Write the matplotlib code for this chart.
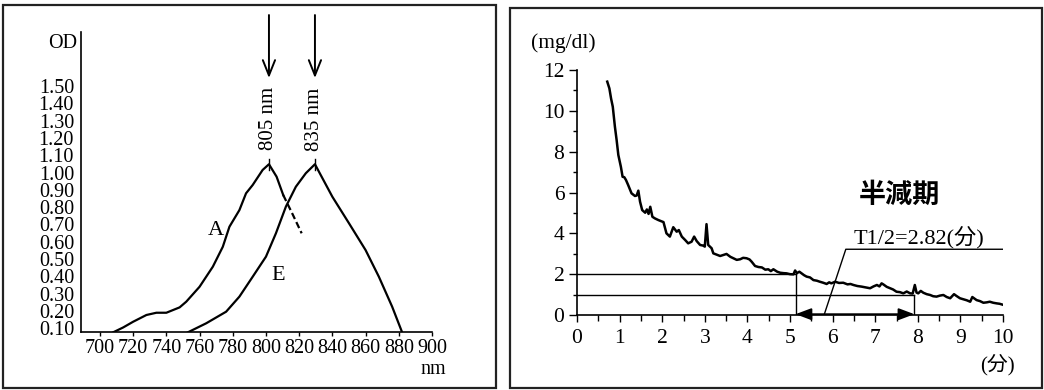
import numpy as np
import matplotlib
matplotlib.use("Agg")
import matplotlib.pyplot as plt
from matplotlib.patches import Rectangle

plt.rcParams['font.family'] = ['Liberation Serif', 'Noto Sans CJK JP']

# left panel: absorption spectra (nm, OD)
a_nm = [708, 714, 720, 728, 734, 740, 748, 752, 760, 768, 774, 778, 784, 788, 792, 798, 801.8, 806.4, 810.4]
a_od = [0.077, 0.105, 0.138, 0.177, 0.19, 0.19, 0.221, 0.254, 0.34, 0.456, 0.571, 0.687, 0.783, 0.88, 0.928, 1.015, 1.048, 0.976, 0.87]
a_dash_nm = [810.4, 816, 821.5]
a_dash_od = [0.87, 0.76, 0.649]
e_nm = [753, 764, 776, 784, 792, 800, 806, 812, 818, 824, 829.5, 840, 850, 860, 868, 876, 882]
e_od = [0.077, 0.129, 0.196, 0.283, 0.398, 0.514, 0.649, 0.803, 0.918, 0.996, 1.048, 0.86, 0.707, 0.552, 0.398, 0.225, 0.077]
peaks = [801.8, 829.5]
peak_labels = ["805 nm", "835 nm"]
nm_ticks = list(range(700, 901, 20))
od_ticks = [round(0.1 * i, 2) for i in range(1, 16)]

# right panel: concentration decay (min, mg/dl)
t = [0.71, 0.76, 0.80, 0.84, 0.89, 0.93, 0.97, 1.03, 1.07, 1.11, 1.15, 1.20, 1.28, 1.36, 1.40, 1.44,
     1.48, 1.53, 1.60, 1.64, 1.68, 1.72, 1.77, 1.83, 1.91, 1.97, 2.03, 2.10, 2.18, 2.26, 2.34, 2.39,
     2.46, 2.54, 2.61, 2.69, 2.75, 2.81, 2.89, 2.96, 3.00, 3.04, 3.08, 3.12, 3.16, 3.20, 3.36, 3.45,
     3.51, 3.60, 3.67, 3.75, 3.83, 3.90, 3.98, 4.05, 4.10, 4.18, 4.26, 4.34, 4.42, 4.49, 4.55, 4.61,
     4.70, 4.77, 4.85, 4.92, 5.00, 5.08, 5.12, 5.16, 5.22, 5.27, 5.33, 5.39, 5.47, 5.55, 5.63, 5.70,
     5.78, 5.86, 5.92, 5.97, 6.06, 6.15, 6.25, 6.35, 6.42, 6.49, 6.58, 6.68, 6.78, 6.88, 6.96, 7.04,
     7.10, 7.15, 7.19, 7.27, 7.35, 7.42, 7.50, 7.58, 7.66, 7.74, 7.82, 7.88, 7.93, 7.97, 8.01, 8.07,
     8.13, 8.21, 8.29, 8.36, 8.44, 8.52, 8.60, 8.68, 8.76, 8.85, 8.91, 8.99, 9.07, 9.15, 9.23, 9.28,
     9.38, 9.46, 9.54, 9.62, 9.69, 9.77, 9.85, 9.92, 10.0]
conc = [11.43, 11.1, 10.6, 10.2, 9.22, 8.57, 7.84, 7.26, 6.77, 6.75, 6.61, 6.37, 5.96, 5.83, 5.85, 6.09,
        5.55, 5.14, 5.01, 5.17, 4.95, 5.30, 4.81, 4.73, 4.65, 4.60, 4.55, 4.0, 3.84, 4.30, 4.08, 4.16,
        3.84, 3.67, 3.51, 3.59, 3.84, 3.62, 3.43, 3.40, 3.35, 4.45, 3.43, 3.35, 3.27, 3.02, 2.89, 2.95,
        2.99, 2.85, 2.78, 2.70, 2.73, 2.80, 2.78, 2.72, 2.61, 2.40, 2.35, 2.33, 2.22, 2.24, 2.15, 2.24,
        2.12, 2.07, 2.05, 2.04, 2.00, 1.99, 2.18, 2.05, 2.12, 2.04, 1.95, 1.88, 1.84, 1.71, 1.68, 1.63,
        1.58, 1.52, 1.60, 1.55, 1.63, 1.57, 1.58, 1.50, 1.52, 1.47, 1.42, 1.39, 1.35, 1.31, 1.40, 1.47,
        1.40, 1.55, 1.50, 1.38, 1.31, 1.25, 1.14, 1.12, 1.06, 1.15, 1.06, 1.05, 1.47, 1.10, 1.06, 1.18,
        1.09, 1.02, 0.98, 0.92, 0.90, 0.95, 0.98, 0.88, 0.82, 1.02, 0.93, 0.82, 0.77, 0.72, 0.65, 0.88,
        0.73, 0.68, 0.60, 0.62, 0.65, 0.60, 0.57, 0.55, 0.50]
c_start, c_half = 2.0, 1.0
t_start, t_half = 5.13, 7.92
leader_x = [5.80, 6.31, 10.0]
leader_y = [0.0, 3.22, 3.22]

W, H = 1044, 390
fig = plt.figure(figsize=(W / 100, H / 100), dpi=100)

def fx(px):
    return px / W

def fy(py):
    return 1 - py / H

# panel frames
fig.patches.append(Rectangle((fx(3), fy(388)), fx(493), (388 - 5) / H, transform=fig.transFigure,
                             fill=False, lw=1.6, ec='#222222'))
fig.patches.append(Rectangle((fx(510), fy(388)), fx(532), (388 - 8) / H, transform=fig.transFigure,
                             fill=False, lw=1.6, ec='#222222'))

# ---- left panel
ax1 = fig.add_axes([fx(81), fy(332.3), fx(351), 300.3 / H])
ax1.plot(a_nm, a_od, color='black', lw=1.6)
ax1.plot(a_dash_nm, a_dash_od, color='black', lw=1.6, linestyle=(0, (3, 1.5)))
ax1.plot(e_nm, e_od, color='black', lw=1.6)
for p, lab in zip(peaks, peak_labels):
    ax1.plot([p, p], [1.015, 1.08], color='black', lw=1.0)
    ax1.text(p, 1.31, lab, rotation=90, ha='center', va='center', fontsize=15)
    ax1.annotate('', xy=(p, 1.546), xytext=(p, 1.91), annotation_clip=False,
                 arrowprops=dict(arrowstyle='->,head_length=0.55,head_width=0.22', lw=1.4,
                                 color='black', mutation_scale=20, shrinkA=0, shrinkB=0))
ax1.text(770, 0.668, 'A', ha='center', va='center', fontsize=16)
ax1.text(807.4, 0.408, 'E', ha='center', va='center', fontsize=16)
ax1.set_xlim(688.6, 900)
ax1.set_ylim(0.077, 1.812)
ax1.set_xticks(nm_ticks)
ax1.set_yticks(od_ticks)
ax1.set_yticklabels([f"{v:.2f}" for v in od_ticks])
ax1.tick_params(axis='x', direction='out', length=3, width=1, labelsize=14.5, pad=2)
ax1.tick_params(axis='y', length=0, labelsize=14.5, pad=5)
for s in ['top', 'right']:
    ax1.spines[s].set_visible(False)
for s in ['left', 'bottom']:
    ax1.spines[s].set_linewidth(1.2)
fig.text(fx(77), fy(43), 'OD', ha='right', va='center', fontsize=14.5)
fig.text(fx(446), fy(369), 'nm', ha='right', va='center', fontsize=14.5)

# ---- right panel
ax2 = fig.add_axes([fx(577), fy(315), fx(426), 245 / H])
ax2.plot(t, conc, color='black', lw=1.8)
ax2.plot([0, t_start], [c_start, c_start], color='black', lw=1.0)
ax2.plot([0, t_half], [c_half, c_half], color='black', lw=1.0)
ax2.plot([t_start, t_start], [0, c_start], color='black', lw=1.0)
ax2.plot([t_half, t_half], [0, c_half], color='black', lw=1.0)
ax2.plot(leader_x, leader_y, color='black', lw=1.0)
ax2.annotate('', xy=(t_start, 0.04), xytext=(t_half, 0.04), annotation_clip=False,
             arrowprops=dict(arrowstyle='<|-|>,head_length=0.8,head_width=0.3', lw=1.3,
                             color='black', mutation_scale=12, shrinkA=0, shrinkB=0))
ax2.text(8.03, 3.80, 'T1/2=2.82(分)', ha='center', va='center', fontsize=16)
ax2.text(7.58, 5.88, '半減期', ha='center', va='center', fontsize=19.5, weight='bold',
         family=['Noto Sans CJK JP'])
ax2.set_xlim(0, 10)
ax2.set_ylim(0, 12)
ax2.set_xticks(range(0, 11))
ax2.set_xticks(np.arange(0.5, 10, 1.0), minor=True)
ax2.set_yticks(range(0, 13, 2))
ax2.set_yticks(range(1, 12, 2), minor=True)
ax2.tick_params(axis='x', which='major', direction='out', length=5, width=1, labelsize=15.5, pad=5)
ax2.tick_params(axis='x', which='minor', direction='out', length=4, width=1)
ax2.tick_params(axis='y', which='major', direction='out', length=6, width=1, labelsize=15.5, pad=3)
ax2.tick_params(axis='y', which='minor', direction='out', length=3, width=1)
for s in ['top', 'right']:
    ax2.spines[s].set_visible(False)
for s in ['left', 'bottom']:
    ax2.spines[s].set_linewidth(1.2)
fig.text(fx(531), fy(43), '(mg/dl)', ha='left', va='center', fontsize=15.5)
fig.text(fx(997), fy(365), '(分)', ha='center', va='center', fontsize=15)

fig.savefig('out.png', dpi=100)
